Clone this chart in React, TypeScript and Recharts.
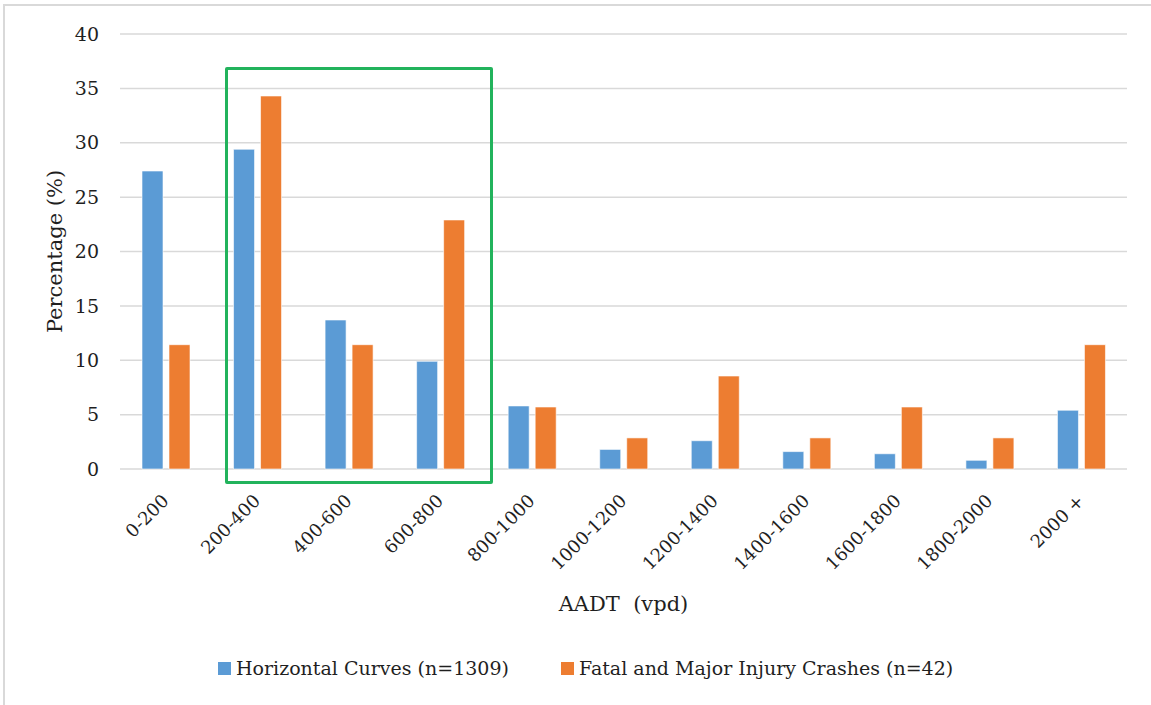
import React from "react";
import { BarChart, Bar, XAxis, YAxis, CartesianGrid, Legend } from "recharts";

const categories = ["0-200", "200-400", "400-600", "600-800", "800-1000", "1000-1200", "1200-1400", "1400-1600", "1600-1800", "1800-2000", "2000 +"];
const horizontalCurves = [27.4, 29.4, 13.7, 9.9, 5.8, 1.8, 2.6, 1.6, 1.4, 0.8, 5.4];
const fatalMajor = [11.43, 34.3, 11.43, 22.9, 5.7, 2.86, 8.55, 2.86, 5.7, 2.86, 11.43];
const yTicks = [0, 5, 10, 15, 20, 25, 30, 35, 40];
const seriesNames = ["Horizontal Curves (n=1309)", "Fatal and Major Injury Crashes (n=42)"];
const colors = ["#5B9BD5", "#ED7D31"];

const data = categories.map((c, i) => ({ cat: c, hc: horizontalCurves[i], fm: fatalMajor[i] }));

const FONT = "DejaVu Serif";
const TEXT = "#1f1f1f";

const XTick = (props: any) => {
  const { x, y, payload } = props;
  const ax = x + 4;
  const ay = y + 33;
  return (
    <text x={ax} y={ay} transform={`rotate(-45 ${ax} ${ay})`} textAnchor="end" fontSize={18} style={{ fontFamily: FONT }} fill={TEXT}>
      {payload.value}
    </text>
  );
};

const YLabel = (props: any) => {
  const vb = props.viewBox || { x: 0, y: 0, width: 0, height: 0 };
  const cx = vb.x + 55;
  const cy = vb.y + vb.height / 2;
  return (
    <text x={cx} y={cy} transform={`rotate(-90 ${cx} ${cy})`} textAnchor="middle" dominantBaseline="central" fontSize={21} style={{ fontFamily: FONT }} fill={TEXT}>
      Percentage (%)
    </text>
  );
};

const XLabel = (props: any) => {
  const vb = props.viewBox || { x: 0, y: 0, width: 0, height: 0 };
  return (
    <text x={vb.x + vb.width / 2} y={611} textAnchor="middle" fontSize={21} fill={TEXT} style={{ whiteSpace: "pre", fontFamily: FONT }}>
      {"AADT  (vpd)"}
    </text>
  );
};

const LegendContent = () => (
  <div style={{ position: "relative", width: 1151, height: 40, fontFamily: FONT, fontSize: 19, color: TEXT }}>
    {seriesNames.map((n, i) => (
      <div key={n} style={{ position: "absolute", left: i === 0 ? 218 : 561, top: 5, display: "flex", alignItems: "center", whiteSpace: "nowrap" }}>
        <span style={{ display: "inline-block", width: 13, height: 13, background: colors[i], marginRight: 5 }} />
        <span>{n}</span>
      </div>
    ))}
  </div>
);

export default function App() {
  return (
    <div style={{ position: "absolute", left: 0, top: 0, width: 1151, height: 705, background: "#fff", fontFamily: FONT }}>
      <div style={{ position: "absolute", left: 3, top: 4, width: 1148, height: 701, borderTop: "2px solid #d9d9d9", borderLeft: "2px solid #d9d9d9", boxSizing: "border-box" }} />
      <BarChart width={1151} height={705} data={data} margin={{ top: 34, right: 24, left: 0, bottom: 0 }} barGap={6} barSize={21} style={{ fontFamily: FONT }}>
        <CartesianGrid vertical={false} stroke="#d9d9d9" strokeWidth={1.5} />
        <XAxis dataKey="cat" axisLine={false} tickLine={false} tickSize={0} tickMargin={0} height={196} interval={0} tick={<XTick />} label={<XLabel />} />
        <YAxis domain={[0, 40]} ticks={yTicks} axisLine={false} tickLine={false} tickSize={0} tickMargin={21} width={120} tick={{ fontSize: 19, fill: TEXT, style: { fontFamily: FONT } }} label={<YLabel />} />
        <Legend verticalAlign="bottom" content={<LegendContent />} wrapperStyle={{ position: "absolute", left: 0, top: 652, width: 1151, height: 40 }} />
        <Bar dataKey="hc" name={seriesNames[0]} fill={colors[0]} stroke="#ffffff" strokeWidth={0.6} isAnimationActive={false} />
        <Bar dataKey="fm" name={seriesNames[1]} fill={colors[1]} stroke="#ffffff" strokeWidth={0.6} isAnimationActive={false} />
      </BarChart>
      <div style={{ position: "absolute", left: 225, top: 67, width: 268, height: 417, border: "3px solid #22b35c", borderRadius: 2, boxSizing: "border-box", pointerEvents: "none" }} />
    </div>
  );
}
